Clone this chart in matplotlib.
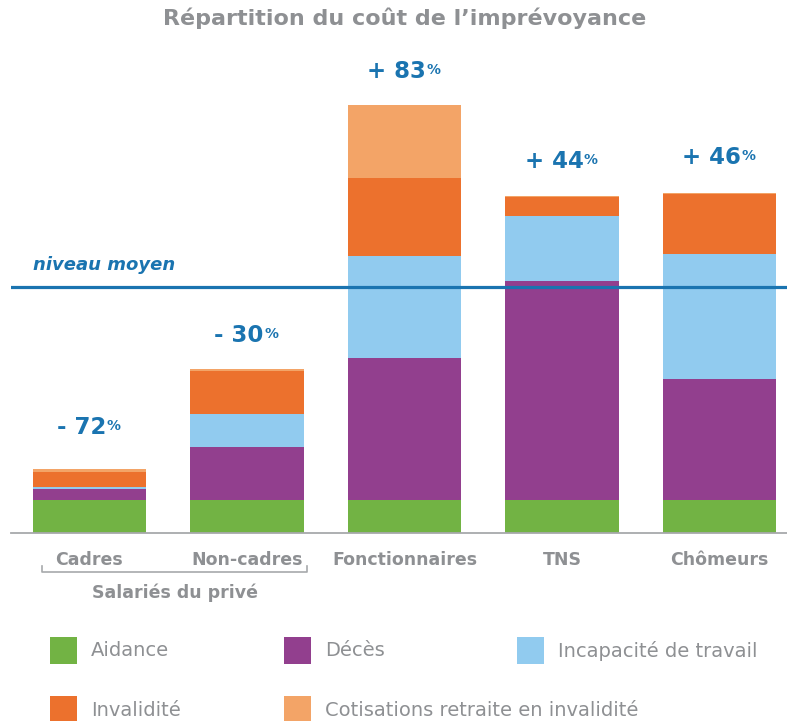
import matplotlib
matplotlib.use("Agg")
import matplotlib.pyplot as plt
from matplotlib.patches import Rectangle
from matplotlib.lines import Line2D
import matplotlib.transforms as mtransforms

# ---------------- data (relative cost units) ----------------
categories = ["Cadres", "Non-cadres", "Fonctionnaires", "TNS", "Chômeurs"]
series_names = ["Aidance", "Décès", "Incapacité de travail", "Invalidité",
                "Cotisations retraite en invalidité"]
aidance      = [33, 33, 33, 33, 33]
deces        = [11, 53, 142, 219, 121]
incapacite   = [2, 33, 102, 65, 125]
invalidite   = [15, 43, 78, 19, 60]
cotisations  = [3, 2, 73, 1, 1]
niveau_moyen = 246
ecarts = ["- 72", "- 30", "+ 83", "+ 44", "+ 46"]

# ---------------- styles ----------------
colors = ["#72b344", "#923f8e", "#91cbef", "#ec712d", "#f3a467"]
blue = "#1a74b0"
grey = "#8e9093"
FONT = "DejaVu Sans"

W, H = 787, 721
fig = plt.figure(figsize=(W / 100, H / 100), dpi=100)
plt.rcParams["font.family"] = [FONT]

def fx(x):
    return x / W

def fy(y):
    return 1 - y / H

base_px, top_px = 533, 50
ax = fig.add_axes([fx(11), fy(base_px), (W - 11) / W, (base_px - top_px) / H])
ax.set_xlim((11 - 89.5) / 157.5, (787 - 89.5) / 157.5)
ax.set_ylim(0, base_px - top_px)

x = list(range(len(categories)))
series = [aidance, deces, incapacite, invalidite, cotisations]
bottom = [0] * len(categories)
for vals, col, name in zip(series, colors, series_names):
    ax.bar(x, vals, width=0.7175, bottom=bottom, color=col, label=name,
           linewidth=0, zorder=2)
    bottom = [b + v for b, v in zip(bottom, vals)]
totals = bottom

# average line
ax.axhline(niveau_moyen, color=blue, lw=2.3, zorder=3)
fig.text(fx(33), fy(265), "niveau moyen", color=blue, fontsize=13,
         fontweight="bold", fontstyle="oblique", ha="left", va="center")

# baseline
ax.axhline(0, color="#a7a9ab", lw=1.3, zorder=3, clip_on=False)

for s in ax.spines.values():
    s.set_visible(False)
ax.set_yticks([])
ax.set_xticks(x)
ax.set_xticklabels(categories, fontsize=12.5, color=grey, fontweight="bold")
ax.tick_params(axis="x", length=0, pad=13)

# percentage labels
label_off_px = [41, 34, 33, 34, 36]
txts = []
for i, (tot, lab) in enumerate(zip(totals, ecarts)):
    tr = mtransforms.offset_copy(ax.transData, fig=fig, x=-8, y=label_off_px[i],
                                 units="dots")
    t = ax.text(i, tot, lab, transform=tr, ha="center", va="center",
                color=blue, fontsize=16.5, fontweight="bold", zorder=4)
    txts.append(t)

fig.canvas.draw()
renderer = fig.canvas.get_renderer()
for t in txts:
    bb = t.get_window_extent(renderer)
    fig.text(bb.x1 / W + 0.5 / W, (bb.y1 - 3) / H, "%", ha="left", va="top",
             color=blue, fontsize=10, fontweight="bold")

# title
fig.text(fx(405), fy(18), "Répartition du coût de l’imprévoyance", ha="center",
         va="center", color=grey, fontsize=16, fontweight="bold")

# bracket for "Salariés du privé"
bx0, bx1, by, bt = 42, 307, 572, 566
fig.add_artist(Line2D([fx(bx0), fx(bx0), fx(bx1), fx(bx1)],
                      [fy(bt), fy(by), fy(by), fy(bt)],
                      color="#a7a9ab", lw=1.2, transform=fig.transFigure))
fig.text(fx((bx0 + bx1) / 2), fy(593), "Salariés du privé", ha="center",
         va="center", color=grey, fontsize=12.5, fontweight="bold")

# legend (manual, 3 evenly spaced columns)
leg_cols = [50, 284, 517]
leg_rows = [651, 710]
for k, (name, col) in enumerate(zip(series_names, colors)):
    r, c = divmod(k, 3)
    xs, yc = leg_cols[c], leg_rows[r]
    fig.add_artist(Rectangle((fx(xs), fy(yc + 13)), 27 / W, 27 / H,
                             transform=fig.transFigure, facecolor=col,
                             edgecolor="none"))
    fig.text(fx(xs + 41), fy(yc), name, ha="left", va="center", color=grey,
             fontsize=14)

fig.savefig("out.png", dpi=100)
